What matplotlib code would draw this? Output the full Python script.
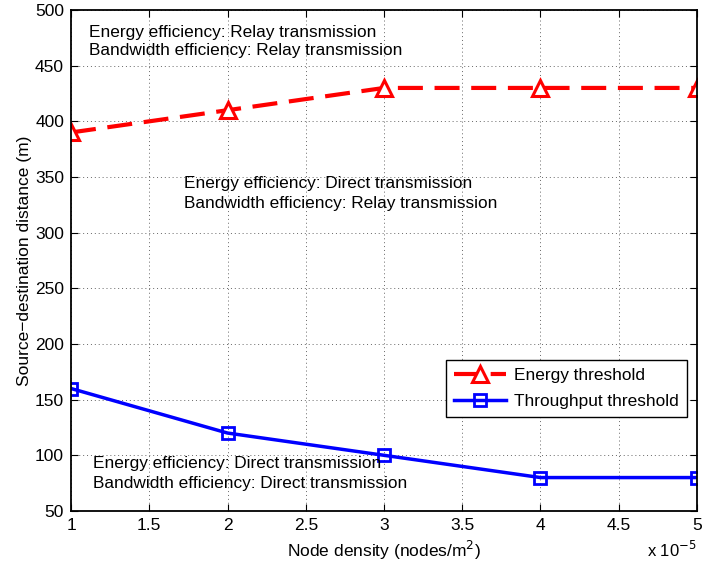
import matplotlib
matplotlib.use('Agg')
import matplotlib.pyplot as plt

plt.rcParams['font.family'] = ['Liberation Sans', 'DejaVu Sans']

# node density in units of 1e-5 nodes/m^2
density = [1, 2, 3, 4, 5]
energy_thr = [390, 410, 430, 430, 430]
throughput_thr = [160, 120, 100, 80, 80]

fig = plt.figure(figsize=(7.04, 5.69), dpi=100)
ax = fig.add_axes([0.1009, 0.102, 0.8891, 0.8804])

ax.plot(density, energy_thr, color='red', ls=(0, (6, 2.8)), lw=3,
        marker='^', ms=12, mfc='white', mew=2.2, label='Energy threshold')
ax.plot(density, throughput_thr, color='blue', ls='-', lw=2.5,
        marker='s', ms=9, mfc='none', mew=2, label='Throughput threshold')

ax.set_xlim(1, 5)
ax.set_ylim(50, 500)
ax.set_xticks([1, 1.5, 2, 2.5, 3, 3.5, 4, 4.5, 5])
ax.set_xticklabels(['1', '1.5', '2', '2.5', '3', '3.5', '4', '4.5', '5'])
ax.set_yticks(range(50, 501, 50))
ax.tick_params(direction='in', top=True, right=True, labelsize=12.5, length=5, pad=5)
ax.grid(True, ls=(0, (1, 3)), color='#666666', lw=0.7)
for s in ax.spines.values():
    s.set_linewidth(1.3)

ax.set_xlabel('Node density (nodes/m$^2$)', fontsize=12.5, labelpad=4)
ax.set_ylabel('Source\u2212destination distance (m)', fontsize=12.5, labelpad=2)
ax.text(1.0, -0.078, r'x 10$^{-5}$', transform=ax.transAxes, ha='right', va='center', fontsize=12)

txt = dict(fontsize=12.4, va='center', ha='left')
ax.text(1.115, 480, 'Energy efficiency: Relay transmission', **txt)
ax.text(1.115, 464, 'Bandwidth efficiency: Relay transmission', **txt)
ax.text(1.722, 344, 'Energy efficiency: Direct transmission', **txt)
ax.text(1.722, 326, 'Bandwidth efficiency: Relay transmission', **txt)
ax.text(1.14, 93, 'Energy efficiency: Direct transmission', **txt)
ax.text(1.14, 75, 'Bandwidth efficiency: Direct transmission', **txt)

leg = ax.legend(loc='lower right', bbox_to_anchor=(0.984, 0.188), fontsize=12.4,
                fancybox=False, framealpha=1, edgecolor='black',
                handlelength=3.0, borderpad=0.45, labelspacing=0.65, handletextpad=0.5,
                borderaxespad=0)
leg.get_frame().set_linewidth(1.0)

fig.savefig('out.png', dpi=100)
